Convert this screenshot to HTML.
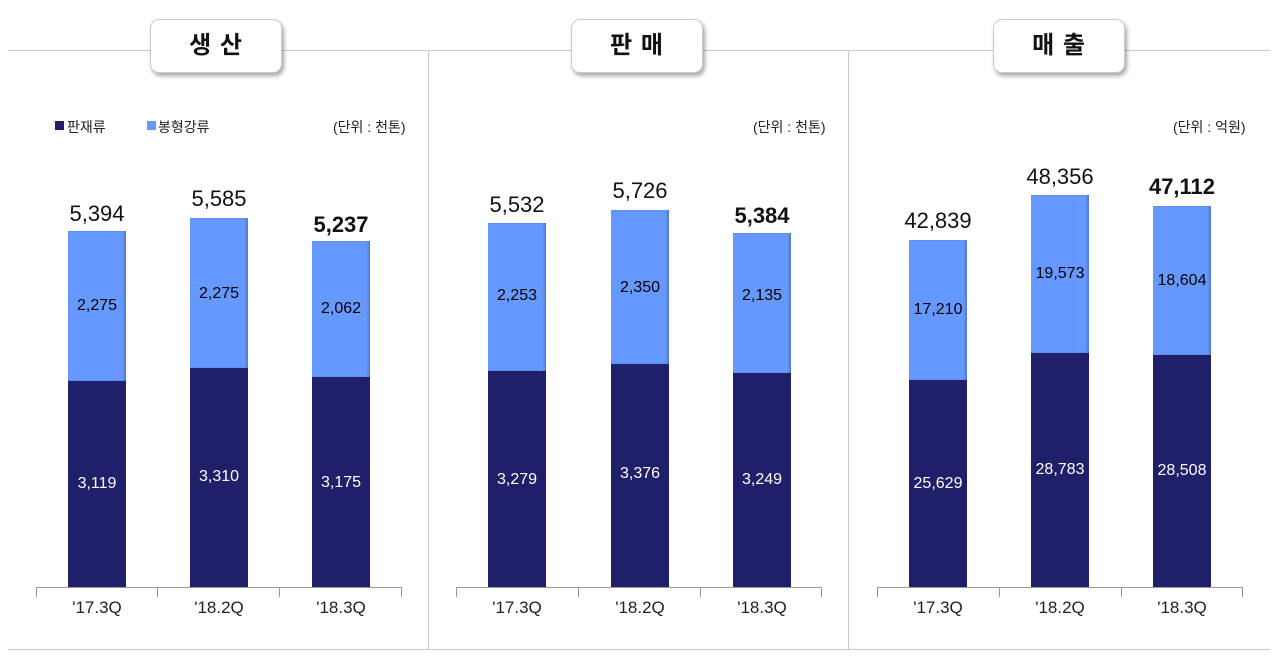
<!DOCTYPE html>
<html><head><meta charset="utf-8"><style>
body{margin:0;width:1280px;height:656px;background:#fff;position:relative;overflow:hidden;font-family:"Liberation Sans","Noto Sans CJK KR",sans-serif;}
div{position:absolute;}
.hl{height:1px;background:#c8c8c8;}
.vl{width:1px;background:#c8c8c8;}
.title{height:52px;width:130px;background:#fff;border:1px solid #ccc;border-radius:9px;box-shadow:2px 3px 4px rgba(0,0,0,0.35);text-align:center;line-height:52px;font-size:24px;font-weight:bold;letter-spacing:1px;color:#111;}
.lb{background:#6699ff;width:58px;box-shadow:inset -2px 0 2px rgba(0,0,0,0.2);}
.db{background:#20206a;width:58px;}
.tot{width:120px;text-align:center;font-size:22px;color:#111;transform:translateY(-50%);}
.seg{width:80px;text-align:center;font-size:16px;transform:translateY(-50%);}
.ax{height:1px;background:#999;}
.tk{width:1px;height:10px;background:#999;}
.xl{width:120px;text-align:center;font-size:17px;color:#222;}
.unit{font-size:14px;color:#222;}
</style></head><body>
<div class="hl" style="left:8px;top:50px;width:1262px"></div>
<div class="hl" style="left:8px;top:649px;width:1262px"></div>
<div class="vl" style="left:428px;top:50px;height:599px"></div>
<div class="vl" style="left:848px;top:50px;height:599px"></div>
<div class="title" style="left:150px;top:19px">생 산</div>
<div class="title" style="left:571px;top:19px">판 매</div>
<div class="title" style="left:993px;top:19px">매 출</div>

<div style="left:55px;top:121px;width:9px;height:9px;background:#20206a"></div>
<div class="unit" style="left:67px;top:117px">판재류</div>
<div style="left:147px;top:121px;width:9px;height:9px;background:#6699ff"></div>
<div class="unit" style="left:158px;top:117px">봉형강류</div>
<div class="unit" style="left:333px;top:117px">(단위 : 천톤)</div>
<div class="unit" style="left:753px;top:117px">(단위 : 천톤)</div>
<div class="unit" style="left:1173px;top:117px">(단위 : 억원)</div>

<!-- axes -->
<div class="ax" style="left:36px;top:587px;width:366px"></div>
<div class="tk" style="left:36px;top:587px"></div><div class="tk" style="left:157px;top:587px"></div><div class="tk" style="left:279px;top:587px"></div><div class="tk" style="left:401px;top:587px"></div>
<div class="ax" style="left:456px;top:587px;width:366px"></div>
<div class="tk" style="left:456px;top:587px"></div><div class="tk" style="left:578px;top:587px"></div><div class="tk" style="left:700px;top:587px"></div><div class="tk" style="left:821px;top:587px"></div>
<div class="ax" style="left:877px;top:587px;width:366px"></div>
<div class="tk" style="left:877px;top:587px"></div><div class="tk" style="left:999px;top:587px"></div><div class="tk" style="left:1121px;top:587px"></div><div class="tk" style="left:1242px;top:587px"></div>

<div class="xl" style="left:37px;top:598px">'17.3Q</div><div class="xl" style="left:159px;top:598px">'18.2Q</div><div class="xl" style="left:281px;top:598px">'18.3Q</div>
<div class="xl" style="left:457px;top:598px">'17.3Q</div><div class="xl" style="left:580px;top:598px">'18.2Q</div><div class="xl" style="left:702px;top:598px">'18.3Q</div>
<div class="xl" style="left:878px;top:598px">'17.3Q</div><div class="xl" style="left:1000px;top:598px">'18.2Q</div><div class="xl" style="left:1122px;top:598px">'18.3Q</div>

<!-- panel1 -->
<div class="lb" style="left:68px;top:231px;height:150px"></div><div class="db" style="left:68px;top:381px;height:206px"></div>
<div class="lb" style="left:190px;top:218px;height:150px"></div><div class="db" style="left:190px;top:368px;height:219px"></div>
<div class="lb" style="left:312px;top:241px;height:136px"></div><div class="db" style="left:312px;top:377px;height:210px"></div>
<div class="tot" style="left:37px;top:214px">5,394</div>
<div class="tot" style="left:159px;top:199px">5,585</div>
<div class="tot" style="left:281px;top:225px;font-weight:bold">5,237</div>
<div class="seg" style="left:57px;top:306px">2,275</div><div class="seg" style="left:179px;top:294px">2,275</div><div class="seg" style="left:301px;top:309px">2,062</div>
<div class="seg" style="left:57px;top:484px;color:#fff">3,119</div><div class="seg" style="left:179px;top:477px;color:#fff">3,310</div><div class="seg" style="left:301px;top:483px;color:#fff">3,175</div>

<!-- panel2 -->
<div class="lb" style="left:488px;top:223px;height:148px"></div><div class="db" style="left:488px;top:371px;height:216px"></div>
<div class="lb" style="left:611px;top:210px;height:154px"></div><div class="db" style="left:611px;top:364px;height:223px"></div>
<div class="lb" style="left:733px;top:233px;height:140px"></div><div class="db" style="left:733px;top:373px;height:214px"></div>
<div class="tot" style="left:457px;top:205px">5,532</div>
<div class="tot" style="left:580px;top:191px">5,726</div>
<div class="tot" style="left:702px;top:216px;font-weight:bold">5,384</div>
<div class="seg" style="left:477px;top:296px">2,253</div><div class="seg" style="left:600px;top:288px">2,350</div><div class="seg" style="left:722px;top:296px">2,135</div>
<div class="seg" style="left:477px;top:480px;color:#fff">3,279</div><div class="seg" style="left:600px;top:474px;color:#fff">3,376</div><div class="seg" style="left:722px;top:480px;color:#fff">3,249</div>

<!-- panel3 -->
<div class="lb" style="left:909px;top:240px;height:140px"></div><div class="db" style="left:909px;top:380px;height:207px"></div>
<div class="lb" style="left:1031px;top:195px;height:158px"></div><div class="db" style="left:1031px;top:353px;height:234px"></div>
<div class="lb" style="left:1153px;top:206px;height:149px"></div><div class="db" style="left:1153px;top:355px;height:232px"></div>
<div class="tot" style="left:878px;top:221px">42,839</div>
<div class="tot" style="left:1000px;top:177px">48,356</div>
<div class="tot" style="left:1122px;top:187px;font-weight:bold">47,112</div>
<div class="seg" style="left:898px;top:310px">17,210</div><div class="seg" style="left:1020px;top:274px">19,573</div><div class="seg" style="left:1142px;top:281px">18,604</div>
<div class="seg" style="left:898px;top:484px;color:#fff">25,629</div><div class="seg" style="left:1020px;top:470px;color:#fff">28,783</div><div class="seg" style="left:1142px;top:471px;color:#fff">28,508</div>
</body></html>
